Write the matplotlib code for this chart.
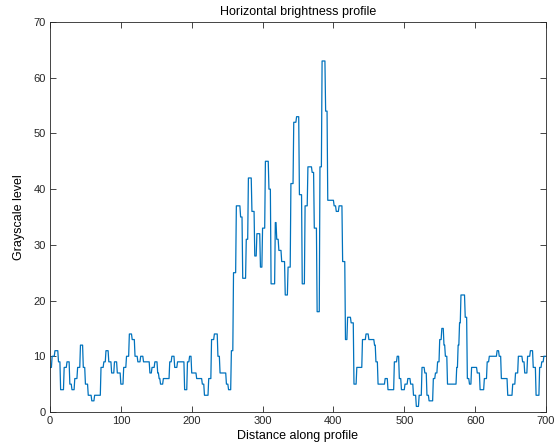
import numpy as np
import matplotlib
matplotlib.use('Agg')
import matplotlib.pyplot as plt

# breakpoints: sample index where a level starts, and the level
starts = [0, 3, 7, 12, 15, 20, 24, 28, 31, 35, 39, 43, 47, 50, 54, 59, 63, 72, 76, 79,
          83, 87, 91, 95, 100, 104, 108, 112, 116, 120, 124, 128, 132, 141, 144, 148, 152, 154, 156, 160,
          169, 172, 176, 180, 190, 194, 197, 200, 207, 215, 218, 224, 228, 232, 237, 240, 249, 252, 256, 259,
          263, 269, 272, 277, 280, 285, 289, 292, 297, 300, 304, 309, 312, 318, 320, 323, 327, 332, 336, 340,
          344, 348, 352, 356, 360, 364, 370, 373, 377, 381, 384, 389, 392, 401, 404, 408, 413, 417, 420, 425,
          429, 433, 441, 446, 450, 458, 460, 463, 473, 477, 486, 490, 493, 496, 501, 505, 509, 513, 517, 521,
          525, 529, 532, 535, 541, 544, 547, 550, 553, 556, 558, 561, 574, 576, 578, 580, 586, 589, 592, 595,
          603, 607, 613, 617, 620, 631, 634, 637, 646, 653, 657, 661, 667, 670, 674, 678, 682, 686, 691, 694,
          697]
levels = [8, 10, 11, 9, 4, 8, 9, 5, 4, 6, 8, 12, 8, 5, 3, 2, 3, 8, 9, 11,
          9, 7, 9, 7, 5, 8, 10, 14, 13, 10, 9, 10, 9, 7, 8, 9, 7, 6, 5, 6,
          9, 10, 8, 9, 4, 9, 10, 7, 6, 5, 3, 6, 13, 14, 10, 7, 5, 4, 11, 25,
          37, 35, 24, 31, 42, 36, 28, 32, 26, 33, 45, 40, 23, 34, 31, 29, 27, 21, 26, 41,
          52, 53, 39, 23, 37, 44, 43, 33, 18, 44, 63, 54, 38, 37, 36, 37, 27, 13, 17, 16,
          5, 8, 13, 14, 13, 12, 9, 5, 6, 4, 9, 10, 6, 4, 5, 6, 5, 3, 1, 3,
          8, 7, 3, 2, 6, 7, 9, 13, 15, 12, 10, 5, 8, 12, 16, 21, 17, 6, 5, 8,
          7, 4, 6, 9, 10, 11, 10, 6, 3, 5, 7, 10, 9, 7, 10, 11, 8, 3, 8, 9,
          10]
n_samples = 700

lengths = np.diff(starts + [n_samples])
profile = np.repeat(levels, lengths)
dist = np.arange(n_samples)

plt.rcParams['font.family'] = ['Liberation Sans', 'DejaVu Sans']
plt.rcParams['font.size'] = 8

fig = plt.figure(figsize=(5.58, 4.45), dpi=100)
ax = fig.add_axes([0.0896, 0.0742, 0.8889, 0.8764])
ax.plot(dist, profile, color='#0072BD', lw=0.9)

ax.set_xlim(0, 700)
ax.set_ylim(0, 70)
ax.set_xticks(range(0, 701, 100))
ax.set_yticks(range(0, 71, 10))
ax.tick_params(direction='in', top=True, right=True, length=4, width=0.6,
               colors='#262626', labelsize=8, pad=3)
for s in ax.spines.values():
    s.set_linewidth(0.6)
    s.set_color('#262626')

ax.set_title('Horizontal brightness profile', fontsize=9, pad=5, color='#000000')
ax.set_xlabel('Distance along profile', fontsize=9, labelpad=3)
ax.set_ylabel('Grayscale level', fontsize=9, labelpad=6)

fig.savefig('out.png', dpi=100)
